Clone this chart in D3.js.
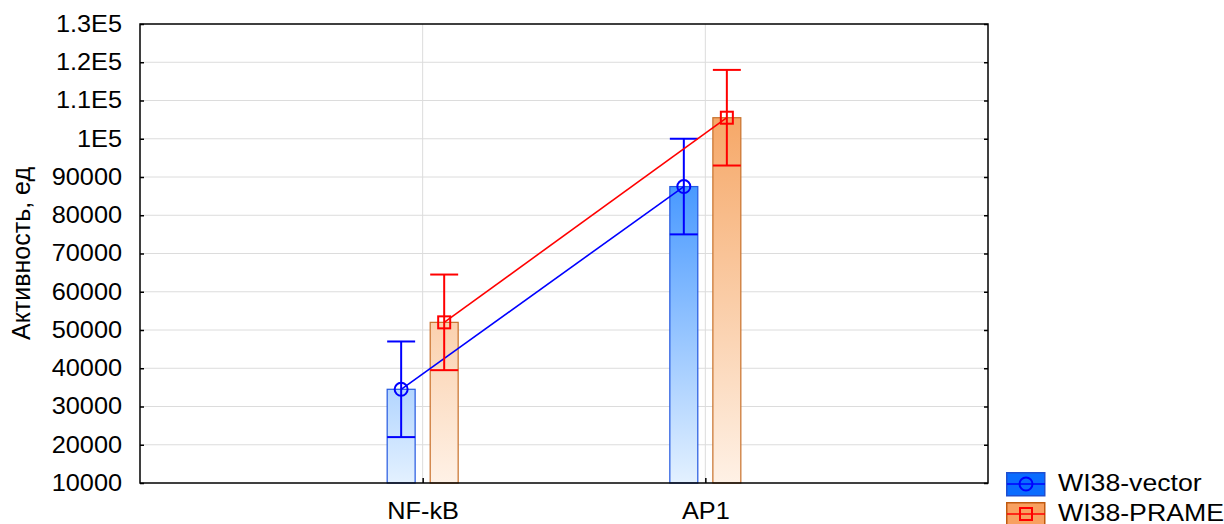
<!DOCTYPE html>
<html>
<head>
<meta charset="utf-8">
<script src="https://cdn.jsdelivr.net/npm/d3@7"></script>
<style>
  body { margin: 0; background: #fff; }
  svg { font-family: "Liberation Sans", Arial, sans-serif; }
</style>
</head>
<body>
<svg id="chart" width="1224" height="524"></svg>
<script>
// data
const categories = ["NF-kB", "AP1"];
const seriesNames = ["WI38-vector", "WI38-PRAME"];
const vectorMeans = [34500, 87500];
const vectorLow = [22000, 75000];
const vectorHigh = [47000, 100000];
const prameMeans = [52000, 105500];
const prameLow = [39500, 93000];
const prameHigh = [64500, 118000];
const yTickValues = [10000, 20000, 30000, 40000, 50000, 60000, 70000, 80000, 90000, 100000, 110000, 120000, 130000];
const yTickLabels = ["10000", "20000", "30000", "40000", "50000", "60000", "70000", "80000", "90000", "1E5", "1.1E5", "1.2E5", "1.3E5"];
const yLabel = "Активность, ед";

const series = [
    { name: seriesNames[0], means: vectorMeans, low: vectorLow, high: vectorHigh,
      line: "#0000ff", stroke: "#2458e0", grad: ["#0070ff", "#f0f8ff"], swatch: "#0a6cff", swatchStroke: "#1f4fd0", marker: "circle" },
    { name: seriesNames[1], means: prameMeans, low: prameLow, high: prameHigh,
      line: "#ff0000", stroke: "#c8702a", grad: ["#f49a50", "#fff6ee"], swatch: "#f8a060", swatchStroke: "#c05a10", marker: "square" }
];

const margin = { top: 24, right: 236, bottom: 41, left: 140 };
const svg = d3.select("#chart");
const width = 1224 - margin.left - margin.right;
const height = 524 - margin.top - margin.bottom;
const fontSize = 23, stretch = 1.1;   // text in the original is a bit wide

const g = svg.append("g").attr("transform", `translate(${margin.left},${margin.top})`);

// scales
const x = d3.scalePoint().domain(categories).range([0, width]).padding(1);
const xSeries = d3.scaleBand().domain(seriesNames).range([-35.5, 35.5]).paddingInner(0.35);
const y = d3.scaleLinear().domain([10000, 130000]).range([height, 0]);

// gradients
const defs = svg.append("defs");
series.forEach((s, i) => {
    const lg = defs.append("linearGradient")
        .attr("id", "grad" + i)
        .attr("gradientUnits", "userSpaceOnUse")
        .attr("x1", 0).attr("x2", 0)
        .attr("y1", margin.top + y(130000)).attr("y2", margin.top + y(10000));
    lg.append("stop").attr("offset", 0).attr("stop-color", s.grad[0]);
    lg.append("stop").attr("offset", 1).attr("stop-color", s.grad[1]);
});

// grid
g.append("g").selectAll("line.h")
    .data(yTickValues.slice(1, -1))
    .enter().append("line")
    .attr("x1", 0).attr("x2", width)
    .attr("y1", d => y(d)).attr("y2", d => y(d))
    .attr("stroke", "#dcdcdc").attr("stroke-width", 1);
g.append("g").selectAll("line.v")
    .data(categories)
    .enter().append("line")
    .attr("x1", d => x(d)).attr("x2", d => x(d))
    .attr("y1", 0).attr("y2", height)
    .attr("stroke", "#dcdcdc").attr("stroke-width", 1);

// bars
series.forEach((s, i) => {
    g.append("g").selectAll("rect")
        .data(categories)
        .enter().append("rect")
        .attr("x", d => x(d) + xSeries(s.name))
        .attr("width", xSeries.bandwidth())
        .attr("y", (d, j) => y(s.means[j]))
        .attr("height", (d, j) => height - y(s.means[j]))
        .attr("fill", `url(#grad${i})`)
        .attr("stroke", s.stroke)
        .attr("stroke-width", 1.2);
});

// connecting lines, error bars, markers
series.forEach(s => {
    const cx = (d) => x(d) + xSeries(s.name) + xSeries.bandwidth() / 2;
    const pts = categories.map((c, j) => [cx(c), y(s.means[j])]);
    g.append("path")
        .attr("d", d3.line()(pts))
        .attr("fill", "none")
        .attr("stroke", s.line)
        .attr("stroke-width", 1.6);

    const eb = g.append("g").attr("stroke", s.line).attr("stroke-width", 2);
    categories.forEach((c, j) => {
        const cxv = cx(c), hw = xSeries.bandwidth() / 2;
        eb.append("line").attr("x1", cxv).attr("x2", cxv).attr("y1", y(s.low[j])).attr("y2", y(s.high[j]));
        eb.append("line").attr("x1", cxv - hw).attr("x2", cxv + hw).attr("y1", y(s.high[j])).attr("y2", y(s.high[j]));
        eb.append("line").attr("x1", cxv - hw).attr("x2", cxv + hw).attr("y1", y(s.low[j])).attr("y2", y(s.low[j]));
        if (s.marker === "circle") {
            eb.append("circle").attr("cx", cxv).attr("cy", y(s.means[j])).attr("r", 6.5).attr("fill", "none");
        } else {
            eb.append("rect").attr("x", cxv - 6).attr("y", y(s.means[j]) - 6).attr("width", 12).attr("height", 12).attr("fill", "none");
        }
    });
});

// frame
g.append("rect")
    .attr("width", width).attr("height", height)
    .attr("fill", "none").attr("stroke", "#000").attr("stroke-width", 1.5);

// ticks (inward)
const yAxisL = d3.axisLeft(y).tickValues(yTickValues).tickSize(-4).tickFormat((d, i) => yTickLabels[i]).tickPadding(18);
const gyl = g.append("g").call(yAxisL);
gyl.select(".domain").remove();
gyl.selectAll("line").attr("stroke-width", 1.5);
gyl.selectAll("text")
    .attr("font-size", fontSize).attr("fill", "#000")
    .attr("x", -18 / stretch)
    .attr("transform", `scale(${stretch},1)`);

const gyr = g.append("g").attr("transform", `translate(${width},0)`)
    .call(d3.axisRight(y).tickValues(yTickValues).tickSize(-4).tickFormat(""));
gyr.select(".domain").remove();
gyr.selectAll("line").attr("stroke-width", 1.5);

const gx = g.append("g").attr("transform", `translate(0,${height})`)
    .call(d3.axisBottom(x).tickSize(-5).tickPadding(20));
gx.select(".domain").remove();
gx.selectAll("line").attr("stroke-width", 1.5);
gx.selectAll("text")
    .attr("font-size", fontSize).attr("fill", "#000")
    .attr("transform", `scale(${stretch},1)`);

// y label
svg.append("text")
    .attr("transform", `translate(30,${margin.top + height / 2}) rotate(-90)`)
    .attr("text-anchor", "middle")
    .attr("font-size", 25)
    .text(yLabel);

// legend
const legend = svg.append("g").attr("transform", "translate(1006,472)");
series.forEach((s, i) => {
    const lgi = legend.append("g").attr("transform", `translate(0,${i * 30})`);
    lgi.append("rect").attr("x", 0.75).attr("y", 0.75).attr("width", 38).attr("height", 23)
        .attr("fill", s.swatch).attr("stroke", s.swatchStroke).attr("stroke-width", 1.5);
    lgi.append("line").attr("x1", 1).attr("x2", 39).attr("y1", 12).attr("y2", 12)
        .attr("stroke", s.line).attr("stroke-width", 1.5);
    if (s.marker === "circle") {
        lgi.append("circle").attr("cx", 20).attr("cy", 12).attr("r", 6.5)
            .attr("fill", "none").attr("stroke", s.line).attr("stroke-width", 2);
    } else {
        lgi.append("rect").attr("x", 14).attr("y", 6).attr("width", 12).attr("height", 12)
            .attr("fill", "none").attr("stroke", s.line).attr("stroke-width", 2);
    }
    lgi.append("text")
        .attr("transform", `translate(52,19) scale(1.16,1)`)
        .attr("font-size", fontSize).text(s.name);
});
</script>
</body>
</html>
